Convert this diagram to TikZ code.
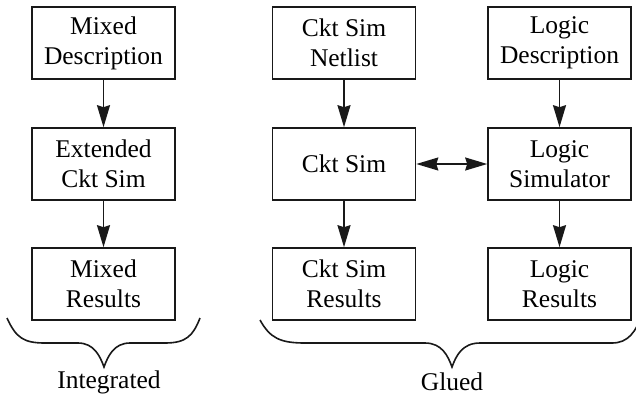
\documentclass[tikz,border=0pt]{standalone}
\usepackage{fontspec}
\setmainfont{Liberation Serif}
\usetikzlibrary{arrows.meta}
\begin{document}
\begin{tikzpicture}[x=1pt,y=-1pt,
  blockbox/.style={draw=black!90,line width=1.6pt,minimum width=143pt,minimum height=72pt,inner sep=0pt,align=center,
    font=\fontsize{25.5}{30}\selectfont},
  flow/.style={draw=black!90,line width=1.6pt,-{Stealth[length=22pt,width=13pt,inset=2pt]}},
  brace/.style={draw=black!90,line width=1.6pt},
  lbl/.style={font=\fontsize{25.5}{30}\selectfont,inner sep=0pt}]
\useasboundingbox (0,0) rectangle (636,399);
\node[blockbox] (md) at (103.5,43) {Mixed\\Description};
\node[blockbox] (ecs) at (103.5,164) {Extended\\Ckt Sim};
\node[blockbox] (mr) at (103.5,284) {Mixed\\Results};
\node[blockbox] (csn) at (344,43) {Ckt Sim\\Netlist};
\node[blockbox] (cs) at (344,164) {Ckt Sim};
\node[blockbox] (csr) at (344,284) {Ckt Sim\\Results};
\node[blockbox] (ld) at (559.5,43) {Logic\\Description};
\node[blockbox] (ls) at (559.5,164) {Logic\\Simulator};
\node[blockbox] (lr) at (559.5,284) {Logic\\Results};
\draw[flow] (md) -- (ecs);
\draw[flow] (ecs) -- (mr);
\draw[flow] (csn) -- (cs);
\draw[flow] (cs) -- (csr);
\draw[flow] (ld) -- (ls);
\draw[flow] (ls) -- (lr);
\draw[flow,{Stealth[length=22pt,width=13pt,inset=2pt]}-{Stealth[length=22pt,width=13pt,inset=2pt]}] (cs) -- (ls);
% braces
\coordinate (lb1) at (7,318);
\coordinate (lbt) at (104,367);
\coordinate (lb2) at (200,318);
\draw[brace] (lb1) .. controls (16,338) and (24,343) .. (45,343) -- (78,343)
  .. controls (94,343) and (100,356) .. (lbt)
  .. controls (108,356) and (114,343) .. (130,343) -- (165,343)
  .. controls (186,343) and (193,336) .. (lb2);
\coordinate (rb1) at (260,320);
\coordinate (rbt) at (452,367);
\coordinate (rb2) at (642,314);
\draw[brace] (rb1) .. controls (270,338) and (280,343) .. (305,343) -- (425,343)
  .. controls (442,343) and (448,356) .. (rbt)
  .. controls (456,356) and (462,343) .. (480,343) -- (612,343)
  .. controls (628,343) and (636,332) .. (rb2);
\node[lbl] (int) at (109,382) {Integrated};
\node[lbl] (glu) at (452,382) {Glued};
\end{tikzpicture}
\end{document}
